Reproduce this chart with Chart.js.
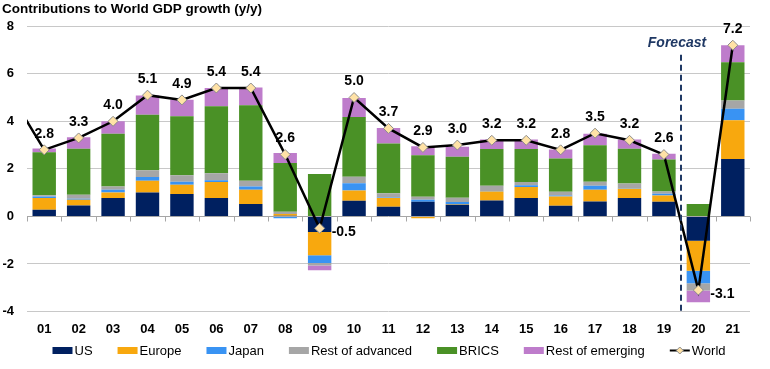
<!DOCTYPE html>
<html>
<head>
<meta charset="utf-8">
<script src="https://cdn.jsdelivr.net/npm/chart.js@4.4.1/dist/chart.umd.min.js"></script>
<style>
  html, body { margin: 0; padding: 0; background: #fff; }
  #wrap { width: 770px; height: 369px; position: relative; }
</style>
</head>
<body>
<div id="wrap"><canvas id="chart"></canvas></div>
<script>
var FONT = "'Liberation Sans', Arial, sans-serif";

var categories = ["01", "02", "03", "04", "05", "06", "07", "08", "09", "10", "11",
                  "12", "13", "14", "15", "16", "17", "18", "19", "20", "21"];

var us       = [0.28, 0.46, 0.77, 1.01, 0.94, 0.77, 0.52, 0.03, -0.66, 0.66, 0.41,
                0.62, 0.49, 0.67, 0.77, 0.45, 0.63, 0.77, 0.62, -1.02, 2.41];
var europe   = [0.49, 0.24, 0.24, 0.49, 0.39, 0.68, 0.60, 0.07, -0.97, 0.43, 0.36,
                -0.08, 0.02, 0.38, 0.47, 0.39, 0.49, 0.39, 0.26, -1.27, 1.63];
var japan    = [0.07, 0.04, 0.11, 0.16, 0.13, 0.07, 0.14, -0.08, -0.33, 0.30, 0.02,
                0.08, 0.10, 0.02, 0.07, 0.04, 0.17, 0.02, 0.07, -0.52, 0.49];
var restAdv  = [0.05, 0.17, 0.14, 0.28, 0.27, 0.29, 0.24, 0.10, -0.10, 0.28, 0.18,
                0.13, 0.17, 0.22, 0.14, 0.16, 0.17, 0.20, 0.10, -0.31, 0.34];
var brics    = [1.81, 1.94, 2.22, 2.34, 2.48, 2.82, 3.17, 2.05, 1.78, 2.51, 2.10,
                1.74, 1.73, 1.55, 1.39, 1.40, 1.53, 1.47, 1.34, 0.52, 1.61];
var restEm   = [0.16, 0.48, 0.52, 0.80, 0.70, 0.77, 0.75, 0.42, -0.20, 0.80, 0.65,
                0.38, 0.42, 0.39, 0.39, 0.37, 0.49, 0.38, 0.25, -0.49, 0.72];

// world line runs in from 2000, which sits just off the left edge
var worldYears = [2000, 2001, 2002, 2003, 2004, 2005, 2006, 2007, 2008, 2009, 2010, 2011,
                  2012, 2013, 2014, 2015, 2016, 2017, 2018, 2019, 2020, 2021];
var world      = [5.2, 2.8, 3.3, 4.0, 5.1, 4.9, 5.4, 5.4, 2.6, -0.5, 5.0, 3.7,
                  2.9, 3.0, 3.2, 3.2, 2.8, 3.5, 3.2, 2.6, -3.1, 7.2];

var yTicks = [-4, -2, 0, 2, 4, 6, 8];
var forecastFrom = "20";
var forecastTop = 6.8;

var worldPoints = [];
for (var i = 0; i < worldYears.length; i++) {
  worldPoints.push({ x: worldYears[i], y: world[i] });
}

function barSet(label, data, color) {
  return {
    type: "bar", label: label, data: data, backgroundColor: color,
    borderWidth: 0, barPercentage: 0.68, categoryPercentage: 1, grouped: false,
    xAxisID: "x", stack: "all", order: 1
  };
}

// little tick marks hanging off the zero line, between categories
var zeroTicks = {
  id: "zeroTicks",
  beforeDatasetsDraw: function(chart) {
    var ctx = chart.ctx;
    var xs = chart.scales.x;
    var y0 = Math.round(chart.scales.y.getPixelForValue(0)) + 0.5;
    ctx.save();
    ctx.strokeStyle = "#A6A6A6";
    ctx.lineWidth = 1;
    ctx.beginPath();
    for (var i = 0; i <= categories.length; i++) {
      var x = Math.round(xs.getPixelForValue(i - 0.5)) + 0.5;
      ctx.moveTo(x, y0);
      ctx.lineTo(x, y0 + 5);
    }
    ctx.stroke();
    ctx.restore();
  }
};

// world value labels: above, or to the right when negative
var valueLabels = {
  id: "valueLabels",
  afterDatasetsDraw: function(chart) {
    var ctx = chart.ctx;
    var meta = chart.getDatasetMeta(0);
    var area = chart.chartArea;
    ctx.save();
    ctx.font = "bold 14px " + FONT;
    ctx.fillStyle = "#000";
    ctx.textBaseline = "middle";
    for (var i = 0; i < meta.data.length; i++) {
      var p = meta.data[i];
      if (p.x < area.left || p.x > area.right) continue;
      var v = world[i];
      if (v < 0) {
        ctx.textAlign = "left";
        ctx.fillText(v.toFixed(1), p.x + 12, p.y + 4);
      } else {
        ctx.textAlign = "center";
        ctx.fillText(v.toFixed(1), p.x, p.y - 16);
      }
    }
    ctx.restore();
  }
};

var forecast = {
  id: "forecast",
  afterDatasetsDraw: function(chart) {
    var ctx = chart.ctx;
    var xs = chart.scales.x;
    var ys = chart.scales.y;
    var idx = categories.indexOf(forecastFrom);
    var x = Math.round(xs.getPixelForValue(idx - 0.5));
    var top = ys.getPixelForValue(forecastTop);
    ctx.save();
    ctx.strokeStyle = "#1F3864";
    ctx.lineWidth = 2;
    ctx.setLineDash([6, 4]);
    ctx.beginPath();
    ctx.moveTo(x, top);
    ctx.lineTo(x, chart.chartArea.bottom);
    ctx.stroke();
    ctx.setLineDash([]);
    ctx.font = "italic bold 14px " + FONT;
    ctx.fillStyle = "#1F3864";
    ctx.textAlign = "center";
    ctx.textBaseline = "middle";
    ctx.fillText("Forecast", x - 4, top - 12);
    ctx.restore();
  }
};

// legend row drawn by hand so the spacing matches
var legendRow = {
  id: "legendRow",
  afterDraw: function(chart) {
    var ctx = chart.ctx;
    var sets = chart.data.datasets;
    var order = [1, 2, 3, 4, 5, 6, 0];
    var boxW = 20, boxH = 7, gapText = 2, gapItem = 25;
    var y = chart.height - 18.5;
    ctx.save();
    ctx.font = "13px " + FONT;
    var total = 0;
    for (var i = 0; i < order.length; i++) {
      total += boxW + gapText + ctx.measureText(sets[order[i]].label).width;
      if (i < order.length - 1) total += gapItem;
    }
    var x = (chart.width - total) / 2 + 4;
    ctx.textAlign = "left";
    ctx.textBaseline = "middle";
    for (var j = 0; j < order.length; j++) {
      var ds = sets[order[j]];
      if (ds.type === "line") {
        ctx.strokeStyle = ds.borderColor;
        ctx.lineWidth = 2;
        ctx.beginPath();
        ctx.moveTo(x, y);
        ctx.lineTo(x + boxW, y);
        ctx.stroke();
        ctx.fillStyle = ds.pointBackgroundColor;
        ctx.strokeStyle = ds.pointBorderColor;
        ctx.lineWidth = 1;
        ctx.beginPath();
        ctx.moveTo(x + boxW / 2, y - 3.5);
        ctx.lineTo(x + boxW / 2 + 3.5, y);
        ctx.lineTo(x + boxW / 2, y + 3.5);
        ctx.lineTo(x + boxW / 2 - 3.5, y);
        ctx.closePath();
        ctx.fill();
        ctx.stroke();
      } else {
        ctx.fillStyle = ds.backgroundColor;
        ctx.fillRect(x, y - boxH / 2, boxW, boxH);
      }
      x += boxW + gapText;
      ctx.fillStyle = "#000";
      ctx.fillText(ds.label, x, y + 1);
      x += ctx.measureText(ds.label).width + gapItem;
    }
    ctx.restore();
  }
};

new Chart(document.getElementById("chart"), {
  data: {
    labels: categories,
    datasets: [
      {
        type: "line", label: "World", data: worldPoints,
        xAxisID: "xl", stack: "world", order: 0,
        borderColor: "#000", borderWidth: 2.5,
        pointStyle: "rectRot", pointRadius: 5,
        pointBackgroundColor: "#FFE2A6", pointBorderColor: "#8C8C8C", pointBorderWidth: 1
      },
      barSet("US", us, "#002060"),
      barSet("Europe", europe, "#F8A80E"),
      barSet("Japan", japan, "#3993F3"),
      barSet("Rest of advanced", restAdv, "#A6A6A6"),
      barSet("BRICS", brics, "#4A9126"),
      barSet("Rest of emerging", restEm, "#BE7CCB")
    ]
  },
  options: {
    responsive: true,
    maintainAspectRatio: false,
    animation: false,
    layout: { padding: { left: 2, right: 20, top: 0, bottom: 31.5 } },
    plugins: {
      legend: { display: false },
      tooltip: { enabled: false },
      title: {
        display: true,
        text: "Contributions to World GDP growth (y/y)",
        align: "start",
        color: "#000",
        font: { family: FONT, size: 13.5, weight: "bold" },
        padding: { top: 1, bottom: 9 }
      }
    },
    scales: {
      x: {
        stacked: true,
        afterFit: function(axis) { axis.height = 26; },
        grid: { display: false, drawTicks: false },
        border: { display: false },
        ticks: { color: "#000", font: { family: FONT, size: 13, weight: "bold" }, padding: 10 }
      },
      xl: {
        type: "linear",
        display: false,
        min: worldYears[1] - 0.5,
        max: worldYears[worldYears.length - 1] + 0.5
      },
      y: {
        stacked: true,
        min: yTicks[0],
        max: yTicks[yTicks.length - 1],
        afterBuildTicks: function(axis) {
          axis.ticks = yTicks.map(function(v) { return { value: v }; });
        },
        afterFit: function(axis) { axis.width = 25; },
        grid: {
          drawTicks: false,
          color: function(c) { return c.tick && c.tick.value === 0 ? "#A6A6A6" : "#C8C8C8"; }
        },
        border: { display: false },
        ticks: { color: "#000", font: { family: FONT, size: 13, weight: "bold" }, padding: 13 }
      }
    }
  },
  plugins: [zeroTicks, valueLabels, forecast, legendRow]
});
</script>
</body>
</html>
